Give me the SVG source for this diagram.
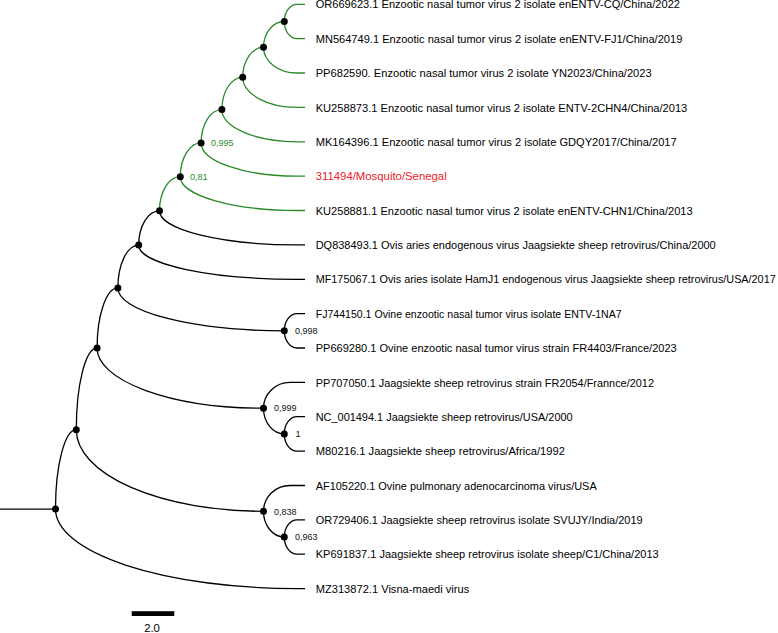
<svg xmlns="http://www.w3.org/2000/svg" width="778" height="633" viewBox="0 0 778 633">
<style>
.br{fill:none;stroke:#000;stroke-width:1.3}
.g{stroke:#2a8a2a}
.nd{fill:#000}
.lb{font-family:"Liberation Sans",Arial,sans-serif;font-size:11.3px;fill:#000}
.red{fill:#e8202a}
.sp{font-family:"Liberation Sans",Arial,sans-serif;font-size:9px;fill:#111}
.sg{fill:#2a8a2a}
</style>
<rect width="778" height="633" fill="#fff"/>
<g id="connectors">
<path class="br g" d="M159.5 210.8 A20.8 34.1 0 0 1 180.3 176.7"/>
<path class="br g" d="M180.3 176.7 A20.8 33.8 0 0 1 201.1 142.9"/>
<path class="br g" d="M180.3 176.7 A116.7 33.8 0 0 0 297 210.5 H305"/>
<path class="br g" d="M201.1 142.9 A20.8 33.35 0 0 1 221.9 109.55"/>
<path class="br g" d="M201.1 142.9 A95.9 33.3 0 0 0 297 176.2 H305"/>
<path class="br g" d="M221.9 109.55 A20.8 32.25 0 0 1 242.7 77.3"/>
<path class="br g" d="M221.9 109.55 A75.1 32.25 0 0 0 297 141.8 H305"/>
<path class="br g" d="M242.7 77.3 A20.8 30.05 0 0 1 263.5 47.25"/>
<path class="br g" d="M242.7 77.3 A54.3 30.1 0 0 0 297 107.4 H305"/>
<path class="br g" d="M263.5 47.25 A20.8 25.75 0 0 1 284.3 21.5"/>
<path class="br g" d="M263.5 47.25 A33.5 25.75 0 0 0 297 73 H305"/>
<path class="br g" d="M284.3 21.5 A12.7 17.2 0 0 1 297 4.3 H305"/>
<path class="br g" d="M284.3 21.5 A12.7 17.2 0 0 0 297 38.7 H305"/>
<path class="br" d="M0 509.1 H55.5"/>
<path class="br" d="M55.5 509.1 A20.8 79.45 0 0 1 76.3 429.65"/>
<path class="br" d="M55.5 509.1 A241.5 79.5 0 0 0 297 588.6 H305"/>
<path class="br" d="M76.3 429.65 A20.8 81.65 0 0 1 97.1 348"/>
<path class="br" d="M76.3 429.65 A187.2 81.65 0 0 0 263.5 511.3"/>
<path class="br" d="M97.1 348 A20.8 60.1 0 0 1 117.9 287.9"/>
<path class="br" d="M97.1 348 A166.4 60.15 0 0 0 263.5 408.15"/>
<path class="br" d="M117.9 287.9 A20.8 42.85 0 0 1 138.7 245.05"/>
<path class="br" d="M117.9 287.9 A166.4 42.9 0 0 0 284.3 330.8"/>
<path class="br" d="M138.7 245.05 A20.8 34.25 0 0 1 159.5 210.8"/>
<path class="br" d="M138.7 245.05 A158.3 34.25 0 0 0 297 279.3 H305"/>
<path class="br" d="M159.5 210.8 A137.5 34.1 0 0 0 297 244.9 H305"/>
<path class="br" d="M284.3 330.8 A12.7 17.2 0 0 1 297 313.6 H305"/>
<path class="br" d="M284.3 330.8 A12.7 17.2 0 0 0 297 348 H305"/>
<path class="br" d="M263.5 408.15 A26.5 25.75 0 0 1 290 382.4 H305"/>
<path class="br" d="M263.5 408.15 A20.8 25.75 0 0 0 284.3 433.9"/>
<path class="br" d="M284.3 433.9 A12.7 17.2 0 0 1 297 416.7 H305"/>
<path class="br" d="M284.3 433.9 A12.7 17.2 0 0 0 297 451.1 H305"/>
<path class="br" d="M263.5 511.3 A26.5 25.8 0 0 1 290 485.5 H305"/>
<path class="br" d="M263.5 511.3 A20.8 25.75 0 0 0 284.3 537.05"/>
<path class="br" d="M284.3 537.05 A12.7 17.15 0 0 1 297 519.9 H305"/>
<path class="br" d="M284.3 537.05 A12.7 17.15 0 0 0 297 554.2 H305"/>
</g>
<g id="internal-nodes">
<g id="nA"><circle class="nd" cx="284.3" cy="21.5" r="3.5"/></g>
<g id="nB"><circle class="nd" cx="263.5" cy="47.25" r="3.5"/></g>
<g id="nC"><circle class="nd" cx="242.7" cy="77.3" r="3.5"/></g>
<g id="nD"><circle class="nd" cx="221.9" cy="109.55" r="3.5"/></g>
<g id="nE"><circle class="nd" cx="201.1" cy="142.9" r="3.5"/><text class="sp sg" x="211" y="146.3">0,995</text></g>
<g id="nF"><circle class="nd" cx="180.3" cy="176.7" r="3.5"/><text class="sp sg" x="190" y="180">0,81</text></g>
<g id="nG"><circle class="nd" cx="159.5" cy="210.8" r="3.5"/></g>
<g id="nH"><circle class="nd" cx="138.7" cy="245.05" r="3.5"/></g>
<g id="nI"><circle class="nd" cx="117.9" cy="287.9" r="3.5"/></g>
<g id="nJ"><circle class="nd" cx="284.3" cy="330.8" r="3.5"/><text class="sp" x="295" y="334">0,998</text></g>
<g id="nK"><circle class="nd" cx="97.1" cy="348" r="3.5"/></g>
<g id="nL"><circle class="nd" cx="263.5" cy="408.15" r="3.5"/><text class="sp" x="274" y="411.4">0,999</text></g>
<g id="nM"><circle class="nd" cx="284.3" cy="433.9" r="3.5"/><text class="sp" x="295.5" y="437.2">1</text></g>
<g id="nN"><circle class="nd" cx="76.3" cy="429.65" r="3.5"/></g>
<g id="nO"><circle class="nd" cx="55.5" cy="509.1" r="3.5"/></g>
<g id="nP"><circle class="nd" cx="263.5" cy="511.3" r="3.5"/><text class="sp" x="274" y="514.5">0,838</text></g>
<g id="nQ"><circle class="nd" cx="284.3" cy="537.05" r="3.5"/><text class="sp" x="295" y="540.3">0,963</text></g>
</g>
<g id="leaves">
<g id="t0"><text class="lb" x="315.7" y="8.4" textLength="364.3" lengthAdjust="spacingAndGlyphs">OR669623.1 Enzootic nasal tumor virus 2 isolate enENTV-CQ/China/2022</text></g>
<g id="t1"><text class="lb" x="315.7" y="42.8" textLength="366.6" lengthAdjust="spacingAndGlyphs">MN564749.1 Enzootic nasal tumor virus 2 isolate enENTV-FJ1/China/2019</text></g>
<g id="t2"><text class="lb" x="315.7" y="77.1" textLength="336" lengthAdjust="spacingAndGlyphs">PP682590. Enzootic nasal tumor virus 2 isolate YN2023/China/2023</text></g>
<g id="t3"><text class="lb" x="315.7" y="111.5" textLength="371.6" lengthAdjust="spacingAndGlyphs">KU258873.1 Enzootic nasal tumor virus 2 isolate ENTV-2CHN4/China/2013</text></g>
<g id="t4"><text class="lb" x="315.7" y="145.9" textLength="361" lengthAdjust="spacingAndGlyphs">MK164396.1 Enzootic nasal tumor virus 2 isolate GDQY2017/China/2017</text></g>
<g id="t5"><text class="lb red" x="315.7" y="180.3" textLength="131" lengthAdjust="spacingAndGlyphs">311494/Mosquito/Senegal</text></g>
<g id="t6"><text class="lb" x="315.7" y="214.6" textLength="377" lengthAdjust="spacingAndGlyphs">KU258881.1 Enzootic nasal tumor virus 2 isolate enENTV-CHN1/China/2013</text></g>
<g id="t7"><text class="lb" x="315.7" y="249" textLength="400" lengthAdjust="spacingAndGlyphs">DQ838493.1 Ovis aries endogenous virus Jaagsiekte sheep retrovirus/China/2000</text></g>
<g id="t8"><text class="lb" x="315.7" y="283.4" textLength="460" lengthAdjust="spacingAndGlyphs">MF175067.1 Ovis aries isolate HamJ1 endogenous virus Jaagsiekte sheep retrovirus/USA/2017</text></g>
<g id="t9"><text class="lb" x="315.7" y="317.7" textLength="306" lengthAdjust="spacingAndGlyphs">FJ744150.1 Ovine enzootic nasal tumor virus isolate ENTV-1NA7</text></g>
<g id="t10"><text class="lb" x="315.7" y="352.1" textLength="361" lengthAdjust="spacingAndGlyphs">PP669280.1 Ovine enzootic nasal tumor virus strain FR4403/France/2023</text></g>
<g id="t11"><text class="lb" x="315.7" y="386.5" textLength="338.3" lengthAdjust="spacingAndGlyphs">PP707050.1 Jaagsiekte sheep retrovirus strain FR2054/Frannce/2012</text></g>
<g id="t12"><text class="lb" x="315.7" y="420.8" textLength="257" lengthAdjust="spacingAndGlyphs">NC_001494.1 Jaagsiekte sheep retrovirus/USA/2000</text></g>
<g id="t13"><text class="lb" x="315.7" y="455.2" textLength="249.3" lengthAdjust="spacingAndGlyphs">M80216.1 Jaagsiekte sheep retrovirus/Africa/1992</text></g>
<g id="t14"><text class="lb" x="315.7" y="489.6" textLength="281" lengthAdjust="spacingAndGlyphs">AF105220.1 Ovine pulmonary adenocarcinoma virus/USA</text></g>
<g id="t15"><text class="lb" x="315.7" y="524" textLength="327" lengthAdjust="spacingAndGlyphs">OR729406.1 Jaagsiekte sheep retrovirus isolate SVUJY/India/2019</text></g>
<g id="t16"><text class="lb" x="315.7" y="558.3" textLength="343" lengthAdjust="spacingAndGlyphs">KP691837.1 Jaagsiekte sheep retrovirus isolate sheep/C1/China/2013</text></g>
<g id="t17"><text class="lb" x="315.7" y="592.7" textLength="153.6" lengthAdjust="spacingAndGlyphs">MZ313872.1 Visna-maedi virus</text></g>
</g>
<g id="scale-bar">
<rect x="131.7" y="611.2" width="42.6" height="4.8" fill="#000"/>
<text class="lb" x="152" y="632" text-anchor="middle">2.0</text>
</g>
</svg>
